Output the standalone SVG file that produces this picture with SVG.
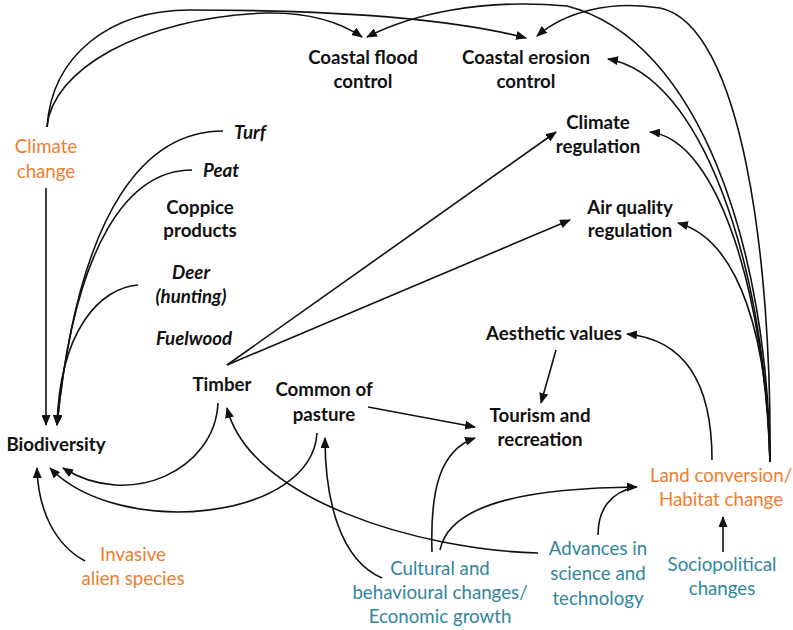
<svg xmlns="http://www.w3.org/2000/svg" width="793" height="630" viewBox="0 0 793 630">
<style>
  text { font-family: Lato, "Liberation Sans", sans-serif; font-size: 18.7px; text-anchor: middle; }
  .b { font-weight: bold; fill: #111; }
  .bi { font-weight: bold; font-style: italic; fill: #111; }
  .o { fill: #ED7D31; }
  .t { fill: #31859C; }
  .c path { fill: none; stroke: #111; stroke-width: 1.6; }
  .c .a { marker-end: url(#ah); }
</style>
<defs>
  <marker id="ah" markerUnits="userSpaceOnUse" markerWidth="11" markerHeight="9" refX="10" refY="4.5" orient="auto">
    <path d="M0,0 L11,4.5 L0,9 z" fill="#111"/>
  </marker>
</defs>
<rect width="793" height="630" fill="#fff"/>

<g id="connectors" class="c">
  <!-- Climate change -->
  <path class="a" d="M47,127 C 52,70 140,18 265,13 C 310,12 340,22 362,37"/>
  <path class="a" d="M47,127 C 52,55 110,10 190,10 C 330,10 450,18 526,38"/>
  <path class="a" d="M46,188 L46,425"/>
  <!-- Land conversion -->
  <path class="a" d="M770,462 C 768,250 700,40 567,6 C 480,-2 410,15 367,37"/>
  <path class="a" d="M770,462 C 772,260 742,25 660,8 C 610,0 565,12 537,36"/>
  <path class="a" d="M770,462 C 765,260 700,75 608,59"/>
  <path class="a" d="M770,462 C 765,300 720,140 650,132"/>
  <path class="a" d="M770,462 C 768,340 740,240 678,223"/>
  <path class="a" d="M712,460 C 712,390 690,340 627,334"/>
  <!-- Timber -->
  <path class="a" d="M227,365 L556,132"/>
  <path class="a" d="M227,365 L570,220"/>
  <path class="a" d="M218,403 C 215,470 130,510 63,468"/>
  <!-- provisioning to Biodiversity -->
  <path class="a" d="M223,131 C 150,131 80,200 57,425"/>
  <path class="a" d="M192,170 C 130,170 75,240 57,425"/>
  <path class="a" d="M138,285 C 100,288 60,330 57,425"/>
  <!-- Invasive -->
  <path class="a" d="M85,561 C 55,545 38,510 37,468"/>
  <!-- Common of pasture -->
  <path class="a" d="M317,433 C 312,520 120,540 50,468"/>
  <path class="a" d="M368,407 L475,427"/>
  <!-- Aesthetic -->
  <path class="a" d="M556,350 L541,403"/>
  <!-- Advances -->
  <path class="a" d="M538,553 C 420,550 250,500 227,408"/>
  <path d="M598,535 C 598,510 610,492 636,487"/>
  <!-- Cultural -->
  <path class="a" d="M382,578 C 340,560 325,500 325,438"/>
  <path class="a" d="M432,552 C 430,490 440,450 475,438"/>
  <path class="a" d="M440,550 C 450,500 540,488 637,487"/>
  <!-- Sociopolitical -->
  <path class="a" d="M723,552 L723,517"/>
</g>

<g id="coastal-flood"><text class="b" x="363" y="64">Coastal flood</text><text class="b" x="363" y="88">control</text></g>
<g id="coastal-erosion"><text class="b" x="526" y="64">Coastal erosion</text><text class="b" x="526" y="88">control</text></g>
<g id="climate-regulation"><text class="b" x="598" y="129">Climate</text><text class="b" x="598" y="153">regulation</text></g>
<g id="air-quality"><text class="b" x="630" y="214">Air quality</text><text class="b" x="630" y="237">regulation</text></g>
<g id="climate-change"><text class="o" x="46" y="153">Climate</text><text class="o" x="46" y="178">change</text></g>
<g id="turf"><text class="bi" x="250" y="139">Turf</text></g>
<g id="peat"><text class="bi" x="221" y="177">Peat</text></g>
<g id="coppice"><text class="b" x="200" y="214">Coppice</text><text class="b" x="200" y="237">products</text></g>
<g id="deer"><text class="bi" x="191" y="279">Deer</text><text class="bi" x="191" y="303">(hunting)</text></g>
<g id="fuelwood"><text class="bi" x="194" y="345">Fuelwood</text></g>
<g id="timber"><text class="b" x="222" y="391">Timber</text></g>
<g id="common-pasture"><text class="b" x="324" y="396">Common of</text><text class="b" x="324" y="421">pasture</text></g>
<g id="biodiversity"><text class="b" x="56" y="451">Biodiversity</text></g>
<g id="aesthetic"><text class="b" x="554" y="340">Aesthetic values</text></g>
<g id="tourism"><text class="b" x="540" y="422">Tourism and</text><text class="b" x="540" y="446">recreation</text></g>
<g id="land-conversion"><text class="o" x="721" y="482">Land conversion/</text><text class="o" x="721" y="506">Habitat change</text></g>
<g id="sociopolitical"><text class="t" x="722" y="571">Sociopolitical</text><text class="t" x="722" y="595">changes</text></g>
<g id="advances"><text class="t" x="598" y="555">Advances in</text><text class="t" x="598" y="580">science and</text><text class="t" x="598" y="605">technology</text></g>
<g id="cultural"><text class="t" x="440" y="575">Cultural and</text><text class="t" x="440" y="599">behavioural changes/</text><text class="t" x="440" y="623">Economic growth</text></g>
<g id="invasive"><text class="o" x="133" y="561">Invasive</text><text class="o" x="133" y="585">alien species</text></g>
</svg>
